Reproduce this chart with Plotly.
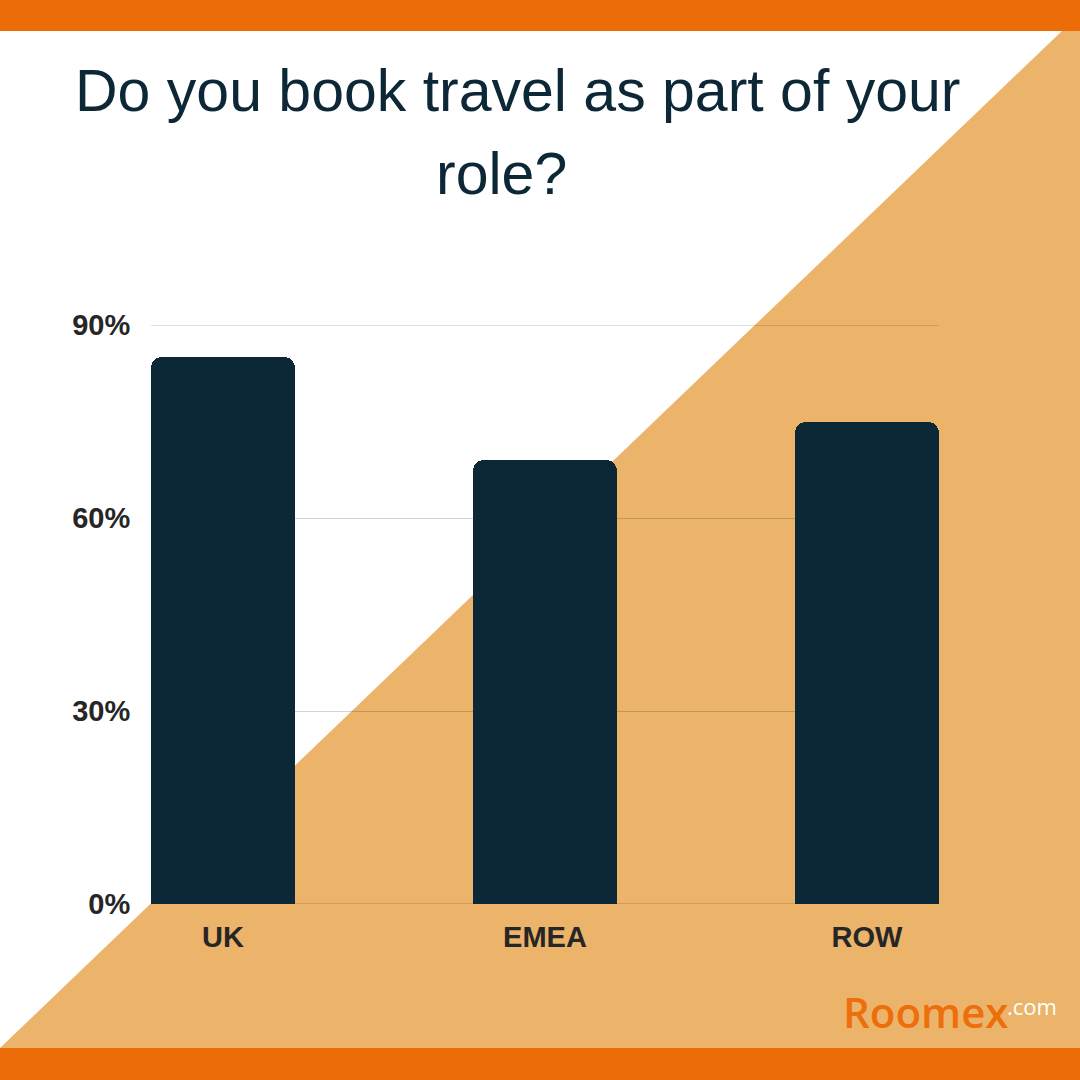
import plotly.graph_objects as go

categories = ["UK", "EMEA", "ROW"]
values = [85, 69, 75]
tick_vals = [0, 30, 60, 90]
tick_text = ["0%", "30%", "60%", "90%"]

W = H = 1080
L, R, T, B = 151, 939, 325, 904  # plot area pixels

def px(x):
    return (x - L) / (R - L)

def py(y):
    return (B - y) / (B - T)

bar_w = 144 / 322
grid_col = "rgba(0,0,0,0.17)"
grid_w = 1.4

fig = go.Figure()
fig.add_trace(go.Bar(
    x=[0, 1, 2], y=values, width=bar_w,
    marker=dict(color="#0C2736", cornerradius=11, line=dict(width=0)),
    hoverinfo="skip",
))

shapes = [
    dict(type="path", xref="paper", yref="paper", layer="below",
         path=f"M {px(0)} {py(1048)} L {px(1063)} {py(30)} L {px(1080)} {py(30)} L {px(1080)} {py(1048)} Z",
         fillcolor="#ECB36B", line=dict(width=0)),
    dict(type="rect", xref="paper", yref="paper", layer="below",
         x0=px(0), x1=px(1080), y0=py(31), y1=py(0),
         fillcolor="#EC6D07", line=dict(width=0)),
    dict(type="rect", xref="paper", yref="paper", layer="below",
         x0=px(0), x1=px(1080), y0=py(1080), y1=py(1048),
         fillcolor="#EC6D07", line=dict(width=0)),
]
for gv in (tick_vals[0], tick_vals[-1]):
    shapes.append(dict(type="line", xref="paper", yref="y", layer="below",
                       x0=0, x1=1, y0=gv, y1=gv, line=dict(color=grid_col, width=grid_w)))

annotations = [
    dict(text="Do you book travel as part of your", xref="paper", yref="paper",
         x=px(517), y=py(91), xanchor="center", yanchor="middle", showarrow=False,
         font=dict(family="Liberation Sans, Arial", size=59, color="#0C2736")),
    dict(text="role?", xref="paper", yref="paper",
         x=px(501), y=py(174), xanchor="center", yanchor="middle", showarrow=False,
         font=dict(family="Liberation Sans, Arial", size=59, color="#0C2736")),
    dict(text="Roomex", xref="paper", yref="paper",
         x=px(841), y=py(1011), xanchor="left", yanchor="middle", showarrow=False,
         font=dict(family="Open Sans", size=42, color="#EC6F0C", weight=600)),
    dict(text=".com", xref="paper", yref="paper",
         x=px(1005), y=py(1006), xanchor="left", yanchor="middle", showarrow=False,
         font=dict(family="Open Sans", size=22, color="#FFFFFF")),
]

tick_font = dict(family="Liberation Sans, Arial", size=29, color="#262626", weight="bold")

fig.update_layout(
    width=W, height=H,
    margin=dict(l=L, r=W - R, t=T, b=H - B, pad=0),
    paper_bgcolor="#FFFFFF", plot_bgcolor="rgba(0,0,0,0)",
    showlegend=False,
    shapes=shapes, annotations=annotations,
    xaxis=dict(
        range=[-bar_w / 2, 2 + bar_w / 2],
        tickvals=[0, 1, 2], ticktext=categories,
        showgrid=False, zeroline=False, showline=False,
        ticks="outside", ticklen=7, tickcolor="rgba(0,0,0,0)",
        tickfont=tick_font, fixedrange=True,
    ),
    yaxis=dict(
        range=[0, 90],
        tickvals=tick_vals, ticktext=tick_text,
        showgrid=True, gridcolor=grid_col, gridwidth=grid_w,
        zeroline=False, showline=False,
        ticks="outside", ticklen=14, tickcolor="rgba(0,0,0,0)",
        tickfont=tick_font, fixedrange=True,
    ),
    bargap=0,
)

fig.write_html("out.html", config=dict(displayModeBar=False),
               post_script="document.body.style.margin='0';document.body.style.padding='0';")
